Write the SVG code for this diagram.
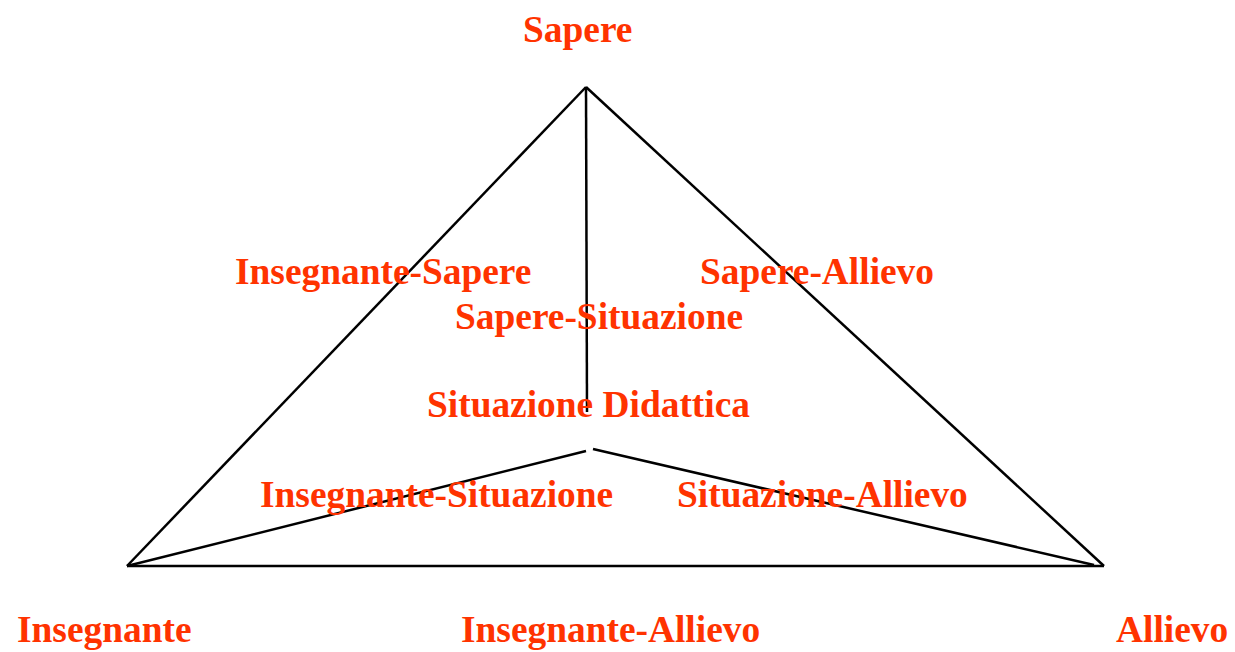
<svg xmlns="http://www.w3.org/2000/svg" width="1235" height="652" viewBox="0 0 1235 652">
<style>
.lbl{font-family:"Liberation Serif","Times New Roman",serif;font-weight:bold;font-size:37.4px;fill:#FF3300}
.ln{stroke:#000;stroke-width:2.5;fill:none}
</style>
<rect width="1235" height="652" fill="#fff"/>
<g id="connectors">
<line class="ln" x1="586" y1="87" x2="127" y2="566"/>
<line class="ln" x1="586" y1="87" x2="1104" y2="566"/>
<line class="ln" x1="127" y1="566" x2="1104" y2="566"/>
<line class="ln" x1="586" y1="87" x2="587" y2="412"/>
<line class="ln" x1="127" y1="566" x2="586" y2="451"/>
<line class="ln" x1="593" y1="449" x2="1094" y2="565"/>
</g>
<g id="node-sapere"><text class="lbl" x="523" y="42">Sapere</text></g>
<g id="node-insegnante"><text class="lbl" x="17" y="642">Insegnante</text></g>
<g id="node-allievo"><text class="lbl" x="1116" y="642">Allievo</text></g>
<g id="node-situazione"><text class="lbl" x="427" y="417">Situazione Didattica</text></g>
<g id="label-insegnante-sapere"><text class="lbl" x="235" y="284">Insegnante-Sapere</text></g>
<g id="label-sapere-allievo"><text class="lbl" x="700" y="284">Sapere-Allievo</text></g>
<g id="label-sapere-situazione"><text class="lbl" x="455" y="329">Sapere-Situazione</text></g>
<g id="label-insegnante-situazione"><text class="lbl" x="260" y="507">Insegnante-Situazione</text></g>
<g id="label-situazione-allievo"><text class="lbl" x="677" y="507">Situazione-Allievo</text></g>
<g id="label-insegnante-allievo"><text class="lbl" x="461" y="642">Insegnante-Allievo</text></g>
</svg>
